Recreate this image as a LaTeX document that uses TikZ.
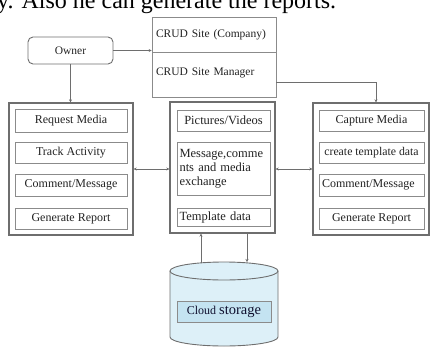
\documentclass[tikz,border=0pt]{standalone}
\usepackage{fontspec}
\setmainfont{Liberation Serif}
\usetikzlibrary{arrows.meta}
\definecolor{ln}{HTML}{6E6E6E}
\definecolor{tx}{HTML}{222222}
\definecolor{cylfill}{HTML}{DDF0F8}
\definecolor{cloudfill}{HTML}{C4E3F1}
\tikzset{
  outerbox/.style={draw=ln, line width=1.3pt, minimum width=#1, inner sep=0pt},
  innerbox/.style={draw=ln!80, line width=0.7pt, minimum width=#1, minimum height=21pt, inner sep=0pt, font=\fontsize{12}{13}\selectfont, text=tx},
  crudbox/.style={draw=ln!80, line width=0.7pt, minimum width=124pt, inner sep=0pt, text width=116pt, align=left, font=\fontsize{11.5}{13}\selectfont, text=tx},
  arr/.style={draw=ln, line width=0.7pt, -{Stealth[length=3pt,width=3pt]}},
  darr/.style={draw=ln, line width=0.7pt, {Stealth[length=3pt,width=3pt]}-{Stealth[length=3pt,width=3pt]}}
}
\begin{document}
\begin{tikzpicture}[x=1pt,y=-1pt]
\useasboundingbox (0,0) rectangle (434,346);
\clip (0,0) rectangle (434,346);
% top cut-off sentence
\node[anchor=base west, inner sep=0pt, font=\fontsize{24}{26}\selectfont] (topline) at (-3,8) {y. Also he can generate the reports.};
% owner and CRUD
\node[draw=ln, line width=0.9pt, rounded corners=5pt, minimum width=85pt, minimum height=27pt, inner sep=0pt, font=\fontsize{11.5}{13}\selectfont, text=tx] (owner) at (70.5,50.5) {Owner};
\node[crudbox, minimum height=35pt] (crudA) at (214,34.5) {CRUD Site (Company)};
\node[crudbox, minimum height=45pt] (crudB) at (214,74.5) {\raisebox{6pt}{CRUD Site Manager}};
% outer boxes
\node[outerbox=124pt, minimum height=132pt] (left) at (71,169) {};
\node[outerbox=105pt, minimum height=131pt] (center) at (222.5,167.5) {};
\node[outerbox=116pt, minimum height=132pt] (right) at (371,169) {};
% left inner
\node[innerbox=112pt, minimum height=23pt] (l1) at (71,120.5) {Request Media};
\node[innerbox=112pt] (l2) at (71,152.5) {Track Activity};
\node[innerbox=112pt, minimum height=22pt] (l3) at (71,185) {Comment/Message};
\node[innerbox=112pt] (l4) at (71,218.5) {Generate Report};
% center inner
\node[innerbox=93pt, font=\fontsize{12.5}{14}\selectfont] (c1) at (223.5,120.5) {Pictures/Videos};
\node[innerbox=93pt, minimum height=53pt, text width=88pt, align=left, font=\fontsize{12.5}{14}\selectfont] (c2) at (223.5,168.5) {Message,comme\\nts and media\\exchange};
\node[innerbox=93pt, minimum height=18pt, text width=88pt, align=left, font=\fontsize{12.5}{14}\selectfont] (c3) at (223.5,217) {Template data};
% right inner
\node[innerbox=105pt] (r1) at (371.5,120.5) {Capture Media};
\node[innerbox=105pt, font=\fontsize{11.8}{13}\selectfont] (r2) at (371.5,152.5) {create template data};
\node[innerbox=105pt, minimum height=22pt, text width=99pt, align=left] (r3) at (371.5,185) {Comment/Message};
\node[innerbox=105pt] (r4) at (371.5,218.5) {Generate Report};
% cylinder
\fill[cylfill] (170,271) -- (170,337) arc[start angle=180, end angle=360, x radius=54, y radius=-9] -- (278,271) arc[start angle=0, end angle=180, x radius=54, y radius=-9] -- cycle;
\draw[ln, line width=0.9pt] (170,271) -- (170,337) arc[start angle=180, end angle=360, x radius=54, y radius=-9] -- (278,271);
\draw[ln, line width=0.9pt] (224,271) ellipse[x radius=54, y radius=9];
\node[draw=ln!80, fill=cloudfill, line width=0.7pt, minimum width=94pt, minimum height=21pt, inner sep=0pt, text=tx!80!blue!60!black] (cloud) at (224,311.5) {\fontsize{12}{14}\selectfont Cloud \fontsize{14.5}{16}\selectfont storage};
\coordinate (cylA) at (201,263);
\coordinate (cylB) at (247,262);
% connectors
\draw[arr] (owner.east) -- (owner.east -| crudA.west);
\draw[arr] ([yshift=-7.5pt]crudB.east) -| ([xshift=5pt]right.north);
\draw[arr] (owner.south) -- (owner.south |- left.north);
\draw[darr] (left.east) -- (left.east -| center.west);
\draw[darr] (right.west) -- (right.west -| center.east);
\draw[arr] (cylA) -- (cylA |- center.south);
\draw[arr] (cylB |- center.south) -- (cylB);
\end{tikzpicture}
\end{document}
